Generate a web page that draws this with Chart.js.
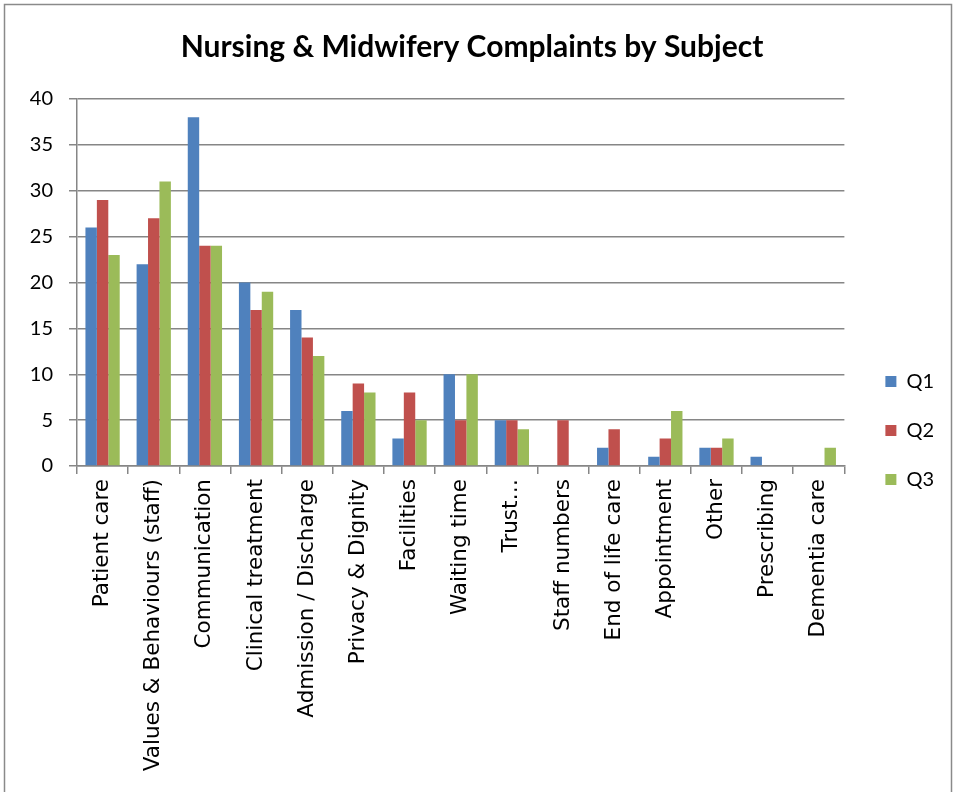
<!DOCTYPE html>
<html>
<head>
<meta charset="utf-8">
<style>
  html, body { margin: 0; padding: 0; background: #fff; }
  #wrap { width: 958px; height: 792px; }
</style>
<script src="https://cdn.jsdelivr.net/npm/chart.js@4.4.1/dist/chart.umd.min.js"></script>
</head>
<body>
<div id="wrap"><canvas id="c" width="958" height="792"></canvas></div>
<script>
const categories = [
  "Patient care", "Values & Behaviours (staff)", "Communication", "Clinical treatment",
  "Admission / Discharge", "Privacy & Dignity", "Facilities", "Waiting time", "Trust\u2026",
  "Staff numbers", "End of life care", "Appointment", "Other", "Prescribing", "Dementia care"
];
const q1 = [26, 22, 38, 20, 17, 6, 3, 10, 5, 0, 2, 1, 2, 1, 0];
const q2 = [29, 27, 24, 17, 14, 9, 8, 5, 5, 5, 4, 3, 2, 0, 0];
const q3 = [23, 31, 24, 19, 12, 8, 5, 10, 4, 0, 0, 6, 3, 0, 2];
const yTicks = [0, 5, 10, 15, 20, 25, 30, 35, 40];

const gridColor = "#868686";

// white background and the outer frame of the chart
const framePlugin = {
  id: "frame",
  beforeDraw(chart) {
    const ctx = chart.ctx;
    ctx.save();
    ctx.fillStyle = "#fff";
    ctx.fillRect(0, 0, chart.width, chart.height);
    ctx.strokeStyle = "#8a8a8a";
    ctx.lineWidth = 1.5;
    ctx.strokeRect(4.5, 4.5, 947, 900);
    ctx.restore();
  }
};

new Chart(document.getElementById("c"), {
  type: "bar",
  data: {
    labels: categories,
    datasets: [
      { label: "Q1", data: q1, backgroundColor: "#4F81BD" },
      { label: "Q2", data: q2, backgroundColor: "#C0504D" },
      { label: "Q3", data: q3, backgroundColor: "#9BBB59" }
    ]
  },
  options: {
    responsive: false,
    animation: false,
    devicePixelRatio: 1,
    layout: { padding: { left: 0, right: 14, top: 0, bottom: 0 } },
    datasets: { bar: { categoryPercentage: 0.67, barPercentage: 1.0 } },
    plugins: {
      title: {
        display: true,
        text: "Nursing & Midwifery Complaints by Subject",
        color: "#000",
        font: { family: "Lato, 'Open Sans', sans-serif", size: 30, weight: "bold" },
        padding: { top: 29, bottom: 34 }
      },
      legend: {
        position: "right",
        title: { display: true, text: "", padding: { top: 0, bottom: 68 }, font: { size: 1 } },
        labels: {
          color: "#000",
          boxWidth: 11,
          boxHeight: 11,
          padding: 29,
          font: { family: "Lato, 'Open Sans', sans-serif", size: 20 }
        }
      },
      tooltip: { enabled: false }
    },
    scales: {
      x: {
        grid: { display: true, drawOnChartArea: false, drawTicks: true, tickLength: 8, color: gridColor, lineWidth: 1.5 },
        border: { display: true, color: gridColor, width: 1.5 },
        ticks: {
          color: "#000",
          minRotation: 90,
          maxRotation: 90,
          autoSkip: false,
          padding: 5,
          font: { family: "'DejaVu Sans', sans-serif", size: 21.5 }
        },
        afterFit(scale) { scale.height = 326; }
      },
      y: {
        min: 0,
        max: 40,
        afterBuildTicks(scale) { scale.ticks = yTicks.map(v => ({ value: v })); },
        grid: { color: gridColor, lineWidth: 1.5, tickLength: 8, drawTicks: true },
        border: { display: true, color: gridColor, width: 1.5 },
        ticks: {
          color: "#000",
          padding: 16,
          font: { family: "Lato, 'Open Sans', sans-serif", size: 20 }
        },
        afterFit(scale) { scale.width = 77; }
      },
      // empty gap between the plot and the legend
      gap: {
        type: "linear",
        position: "right",
        display: true,
        grid: { display: false },
        border: { display: false },
        ticks: { display: false },
        afterFit(scale) { scale.width = 12; }
      }
    }
  },
  plugins: [framePlugin]
});
</script>
</body>
</html>
